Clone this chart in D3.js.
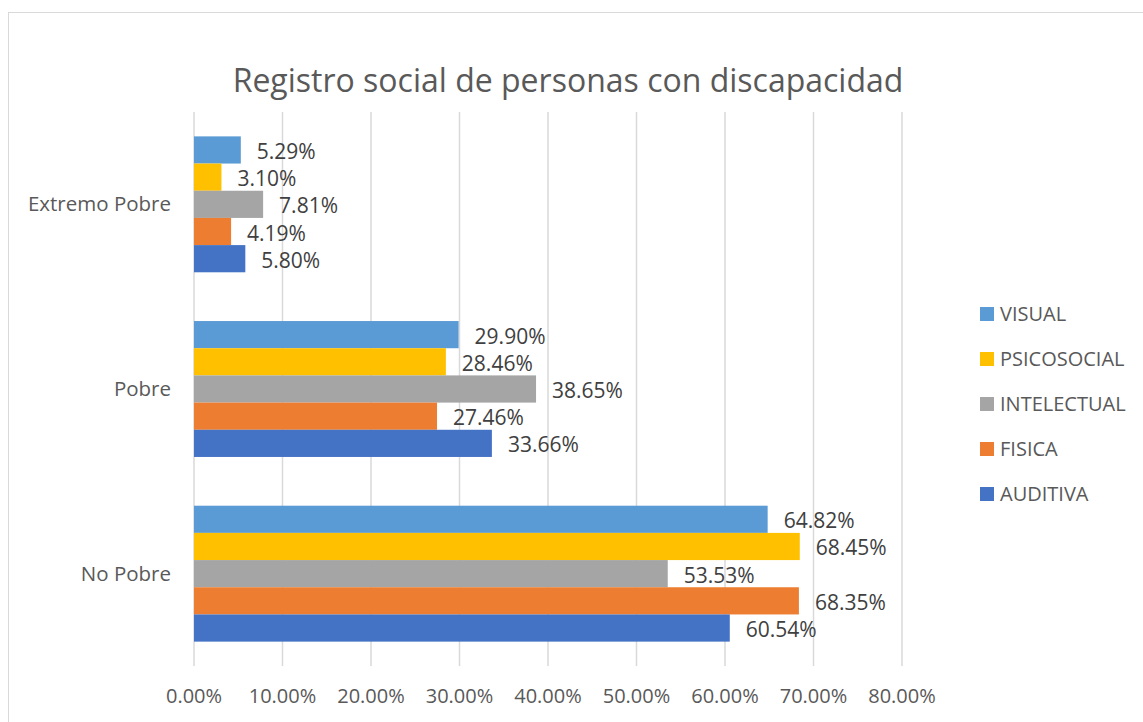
<!DOCTYPE html>
<html>
<head>
<meta charset="utf-8">
<script src="https://cdn.jsdelivr.net/npm/d3@7"></script>
<style>
  html, body { margin: 0; padding: 0; background: #fff; }
  svg { display: block; font-family: 'Open Sans', sans-serif; }
</style>
</head>
<body>
<div id="chart"></div>
<script>
const categories = ['Extremo Pobre', 'Pobre', 'No Pobre'];
const series = ['VISUAL', 'PSICOSOCIAL', 'INTELECTUAL', 'FISICA', 'AUDITIVA'];
const colors = ['#5B9BD5', '#FFC000', '#A5A5A5', '#ED7D31', '#4472C4'];
// values per series, in category order
const visual      = [5.29, 29.90, 64.82];
const psicosocial = [3.10, 28.46, 68.45];
const intelectual = [7.81, 38.65, 53.53];
const fisica      = [4.19, 27.46, 68.35];
const auditiva    = [5.80, 33.66, 60.54];
const xTicks = [0, 10, 20, 30, 40, 50, 60, 70, 80];

const values = [visual, psicosocial, intelectual, fisica, auditiva];
const rows = [];
categories.forEach((c, ci) => {
  series.forEach((s, si) => rows.push({ cat: c, series: s, value: values[si][ci], color: colors[si] }));
});

const W = 1143, H = 722;
const plot = { left: 194, right: 902, top: 112, bottom: 666 };

const svg = d3.select('#chart').append('svg')
  .attr('width', W).attr('height', H);

// chart border
svg.append('rect')
  .attr('x', 8.5).attr('y', 12.5)
  .attr('width', W + 20).attr('height', H + 20)
  .attr('fill', 'none').attr('stroke', '#d9d9d9').attr('stroke-width', 1);

svg.append('text')
  .attr('x', 568).attr('y', 92)
  .attr('text-anchor', 'middle')
  .attr('fill', '#595959')
  .attr('font-size', 32)
  .text('Registro social de personas con discapacidad');

const x = d3.scaleLinear().domain([0, 80]).range([plot.left, plot.right]);
const y0 = d3.scaleBand().domain(categories).range([plot.top, plot.bottom]);
const step = y0.bandwidth();
const y1 = d3.scaleBand().domain(series).range([step * 0.132, step * 0.868]);

// gridlines
svg.append('g')
  .selectAll('line')
  .data(xTicks)
  .join('line')
  .attr('x1', d => x(d)).attr('x2', d => x(d))
  .attr('y1', plot.top).attr('y2', plot.bottom)
  .attr('stroke', '#d9d9d9')
  .attr('stroke-width', 1.5);

// tick labels
svg.append('g')
  .selectAll('text')
  .data(xTicks)
  .join('text')
  .attr('x', d => x(d))
  .attr('y', 703)
  .attr('text-anchor', 'middle')
  .attr('fill', '#595959')
  .attr('font-size', 20)
  .text(d => d.toFixed(2) + '%');

// category labels
svg.append('g')
  .selectAll('text')
  .data(categories)
  .join('text')
  .attr('x', 171)
  .attr('y', d => y0(d) + step / 2 + 7)
  .attr('text-anchor', 'end')
  .attr('fill', '#595959')
  .attr('font-size', 20.5)
  .text(d => d);

// bars
svg.append('g')
  .selectAll('rect')
  .data(rows)
  .join('rect')
  .attr('x', x(0))
  .attr('y', d => y0(d.cat) + y1(d.series))
  .attr('width', d => x(d.value) - x(0))
  .attr('height', y1.bandwidth())
  .attr('fill', d => d.color);

// data labels
svg.append('g')
  .selectAll('text')
  .data(rows)
  .join('text')
  .attr('x', d => x(d.value) + 16)
  .attr('y', d => y0(d.cat) + y1(d.series) + y1.bandwidth() / 2 + 9)
  .attr('fill', '#404040')
  .attr('font-size', 21)
  .text(d => d.value.toFixed(2) + '%');

// legend
const legend = svg.append('g')
  .selectAll('g')
  .data(series)
  .join('g')
  .attr('transform', (d, i) => `translate(980, ${314 + i * 45})`);

legend.append('rect')
  .attr('x', 0).attr('y', -7)
  .attr('width', 14).attr('height', 14)
  .attr('fill', (d, i) => colors[i]);

legend.append('text')
  .attr('x', 20).attr('y', 7)
  .attr('fill', '#595959')
  .attr('font-size', 20)
  .text(d => d);
</script>
</body>
</html>
